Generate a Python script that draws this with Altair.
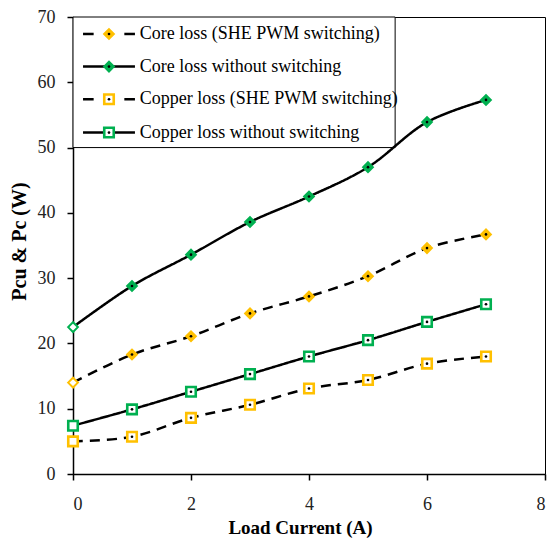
import altair as alt
import pandas as pd

# ---- data ----
load_current = [0, 1, 2, 3, 4, 5, 6, 7]
core_she = [14.0, 18.3, 21.1, 24.6, 27.2, 30.3, 34.6, 36.7]
core_no = [22.5, 28.8, 33.6, 38.6, 42.5, 47.0, 53.9, 57.3]
cu_she = [5.0, 5.7, 8.6, 10.6, 13.1, 14.4, 16.9, 18.0]
cu_no = [7.4, 9.9, 12.6, 15.3, 18.0, 20.5, 23.3, 26.0]
series_names = [
    "Core loss (SHE PWM switching)",
    "Core loss without switching",
    "Copper loss (SHE PWM switching)",
    "Copper loss without switching",
]
x_ticks = [0, 2, 4, 6, 8]
y_ticks = [0, 10, 20, 30, 40, 50, 60, 70]

YELLOW = "#FFC000"
GREEN = "#00B050"
colors = [YELLOW, GREEN, YELLOW, GREEN]
shapes = ["diamond", "diamond", "square", "square"]
dashes = [[10, 7], [1, 0], [10, 7], [1, 0]]
FONT = "Liberation Serif"

rows = []
for name, vals, shp in zip(series_names, [core_she, core_no, cu_she, cu_no], shapes):
    for xv, yv in zip(load_current, vals):
        rows.append({"series": name, "x": xv, "y": yv, "shape": shp})
df = pd.DataFrame(rows)

xscale = alt.Scale(domain=[0, 8], nice=False)
yscale = alt.Scale(domain=[0, 70], nice=False)
color_scale = alt.Scale(domain=series_names, range=colors)
dash_scale = alt.Scale(domain=series_names, range=dashes)

X = alt.X("x:Q", scale=xscale,
          axis=alt.Axis(values=x_ticks, title="Load Current (A)", format="d",
                        tickSize=6, labelPadding=15, titleX=227, titleY=53,
                        titleBaseline="middle", titleFontSize=19))
Y = alt.Y("y:Q", scale=yscale,
          axis=alt.Axis(values=y_ticks, title="Pcu & Pc (W)", format="d",
                        tickSize=6, labelPadding=12, titleAngle=270,
                        titleX=-54, titleY=224, titleAlign="center",
                        titleBaseline="middle", titleFontSize=20))

base = alt.Chart(df)

lines = base.mark_line(color="black", strokeWidth=2.5, interpolate="catmull-rom").encode(
    x=X, y=Y, detail="series:N",
    strokeDash=alt.StrokeDash("series:N", scale=dash_scale, legend=None),
)

diamonds = base.transform_filter(alt.datum.shape == "diamond").mark_point(
    shape="diamond", size=95, strokeWidth=2, opacity=1, fillOpacity=1
).encode(
    x="x:Q", y="y:Q",
    stroke=alt.Stroke("series:N", scale=color_scale, legend=None),
    fill=alt.condition(alt.datum.x == 0, alt.value("white"),
                       alt.Fill("series:N", scale=color_scale, legend=None)),
)

squares = base.transform_filter(alt.datum.shape == "square").mark_point(
    shape="square", size=90, strokeWidth=2.6, opacity=1, fill="white", fillOpacity=1
).encode(
    x="x:Q", y="y:Q",
    stroke=alt.Stroke("series:N", scale=color_scale, legend=None),
)

dots = base.transform_filter(alt.datum.x > 0).mark_circle(size=7, color="black", opacity=1).encode(
    x="x:Q", y="y:Q")

# ---- legend (drawn inside the plot, top-left) ----
box = alt.Chart(pd.DataFrame({"x": [0], "x2": [5.46], "y": [50], "y2": [70]})).mark_rect(
    fill="white", stroke="black", strokeWidth=1
).encode(x="x:Q", x2="x2:Q", y="y:Q", y2="y2:Q")

row_y = [67.4, 62.4, 57.4, 52.3]
seg_rows = []
for name, ry, d in zip(series_names, row_y, dashes):
    if d[1] != 0:
        seg_rows.append({"series": name, "x": 0.17, "x2": 0.35, "y": ry})
        seg_rows.append({"series": name, "x": 0.87, "x2": 1.05, "y": ry})
    else:
        seg_rows.append({"series": name, "x": 0.17, "x2": 1.05, "y": ry})
leg_lines = alt.Chart(pd.DataFrame(seg_rows)).mark_rule(color="black", strokeWidth=2.5).encode(
    x="x:Q", x2="x2:Q", y="y:Q")

leg_pts_df = pd.DataFrame({"series": series_names, "x": [0.61] * 4, "y": row_y, "shape": shapes})
leg_dia = alt.Chart(leg_pts_df).transform_filter(alt.datum.shape == "diamond").mark_point(
    shape="diamond", size=95, strokeWidth=2, filled=True, opacity=1
).encode(x="x:Q", y="y:Q",
         fill=alt.Fill("series:N", scale=color_scale, legend=None),
         stroke=alt.Stroke("series:N", scale=color_scale, legend=None))
leg_sq = alt.Chart(leg_pts_df).transform_filter(alt.datum.shape == "square").mark_point(
    shape="square", size=90, strokeWidth=2.6, fill="white", fillOpacity=1, opacity=1
).encode(x="x:Q", y="y:Q",
         stroke=alt.Stroke("series:N", scale=color_scale, legend=None))
leg_dot = alt.Chart(leg_pts_df).mark_circle(size=7, color="black", opacity=1).encode(x="x:Q", y="y:Q")
leg_text = alt.Chart(leg_pts_df.assign(tx=1.13)).mark_text(
    align="left", baseline="middle", font=FONT, fontSize=18, color="black"
).encode(x="tx:Q", y="y:Q", text="series:N")

chart = alt.layer(
    box, lines, diamonds, squares, dots,
    leg_lines, leg_dia, leg_sq, leg_dot, leg_text
).properties(
    width=472, height=457,
    autosize=alt.AutoSizeParams(type="none"),
    padding={"left": 65, "top": 9, "right": 2, "bottom": 64},
).configure_view(
    stroke="black", strokeWidth=1
).configure_axis(
    grid=False, domainColor="black", domainWidth=1.5, tickColor="black", tickWidth=1.5,
    labelFont=FONT, labelFontSize=18, labelColor="#222",
    titleFont=FONT, titleFontWeight="bold", titleColor="black",
)

chart.save("out.html", embed_options={"renderer": "svg", "actions": False})
